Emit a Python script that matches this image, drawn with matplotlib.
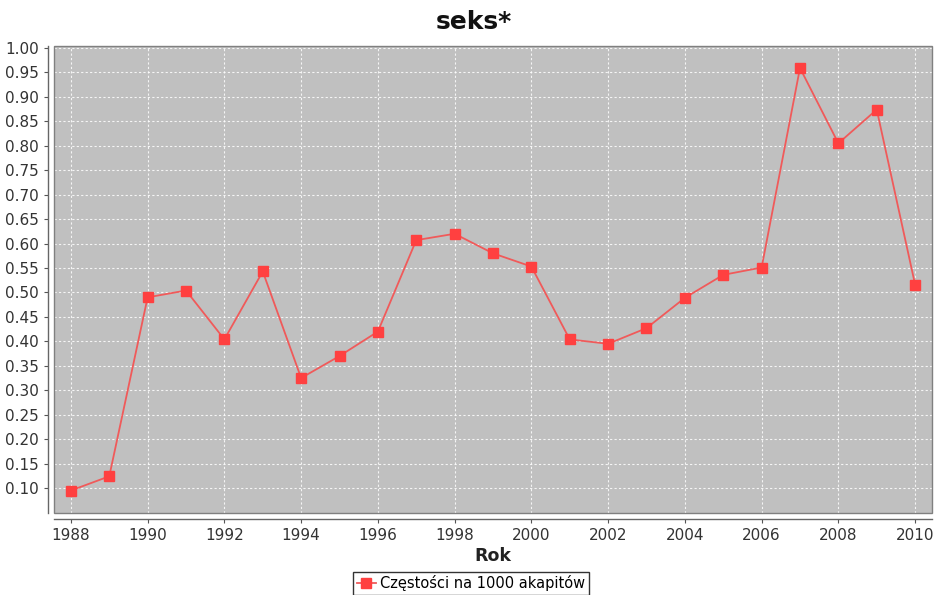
import matplotlib
matplotlib.use("Agg")
import matplotlib.pyplot as plt
from matplotlib.lines import Line2D
from matplotlib.patches import Rectangle

years = list(range(1988, 2011))
values = [0.095, 0.124, 0.490, 0.504, 0.404, 0.543, 0.325, 0.370, 0.420,
          0.607, 0.620, 0.580, 0.553, 0.404, 0.395, 0.427, 0.489, 0.536,
          0.551, 0.959, 0.805, 0.874, 0.516]
title = "seks*"
xlabel = "Rok"
legend_label = "Częstości na 1000 akapitów"
yticks = [0.10, 0.15, 0.20, 0.25, 0.30, 0.35, 0.40, 0.45, 0.50, 0.55,
          0.60, 0.65, 0.70, 0.75, 0.80, 0.85, 0.90, 0.95, 1.00]
xticks = list(range(1988, 2011, 2))

plt.rcParams['font.family'] = ['DejaVu Sans']

fig = plt.figure(figsize=(9.35, 5.95), dpi=100)
ax = fig.add_axes([54/935, 1-513/595, (932-54)/935, (513-46)/595])
ax.set_facecolor('#c0c0c0')

line_color = '#f05a5a'
marker_color = '#ff4040'
ax.plot(years, values, color=line_color, lw=1.3, marker='s', markersize=7,
        markerfacecolor=marker_color, markeredgecolor=marker_color, zorder=3)

ax.set_xlim(1987.56, 2010.44)
ax.set_ylim(0.049, 1.004)
ax.set_xticks(xticks)
ax.set_yticks(yticks)
ax.set_yticklabels([f"{v:.2f}" for v in yticks])
ax.grid(True, color='white', linestyle=(0, (2, 2)), linewidth=0.8, alpha=0.85)
ax.set_axisbelow(True)

for s in ['top', 'right']:
    ax.spines[s].set_visible(False)
for s in ['left', 'bottom']:
    ax.spines[s].set_color('#666666')
    ax.spines[s].set_linewidth(1.0)
ax.spines['left'].set_position(('outward', 4))
ax.spines['bottom'].set_position(('outward', 4))

# plot-area border
ax.add_patch(Rectangle((0, 0), 1, 1, transform=ax.transAxes, fill=False,
                       edgecolor='#808080', lw=1.0, zorder=4, clip_on=False))

ax.tick_params(axis='both', labelsize=11, colors='#555555', labelcolor='#333333',
               length=3, width=0.8, direction='out', pad=4)
ax.set_xlabel(xlabel, fontsize=12.5, fontweight='semibold', color='#222222', labelpad=3)
fig.text(474/935, 1-22/595, title, fontsize=18, fontweight='bold', color='#111111',
         ha='center', va='center')

handle = Line2D([0], [0], color=line_color, lw=1.3, marker='s', markersize=7,
                markerfacecolor=marker_color, markeredgecolor=marker_color)
leg = fig.legend([handle], [legend_label], loc='lower center',
                 bbox_to_anchor=(471/935, 0.0), frameon=True, fancybox=False,
                 fontsize=10.5, handlelength=1.3, handletextpad=0.3,
                 borderpad=0.25, borderaxespad=0)
leg.get_frame().set_edgecolor('black')
leg.get_frame().set_linewidth(1.0)

fig.savefig("out.png", dpi=100)
